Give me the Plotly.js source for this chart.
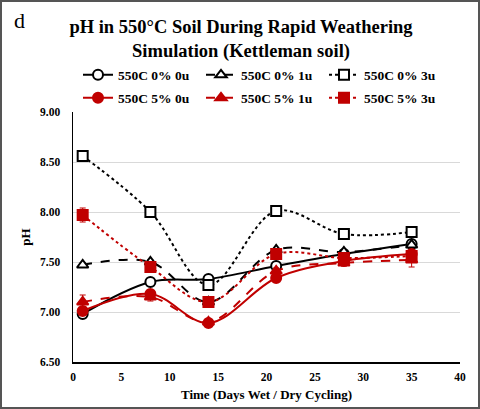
<!DOCTYPE html>
<html>
<head>
<meta charset="utf-8">
<script src="https://cdn.plot.ly/plotly-3.0.1.min.js"></script>
<style>html,body{margin:0;padding:0;background:#fff;}#chart{width:480px;height:409px;}</style>
</head>
<body>
<div id="chart"></div>
<script>
// ---- data ----
const days = [1, 8, 14, 21, 28, 35];
const seriesNames = ["550C 0% 0u", "550C 0% 1u", "550C 0% 3u", "550C 5% 0u", "550C 5% 1u", "550C 5% 3u"];
const ph_0pct_0u = [6.98, 7.30, 7.33, 7.46, 7.58, 7.68];
const ph_0pct_1u = [7.47, 7.50, 7.10, 7.62, 7.60, 7.67];
const ph_0pct_3u = [8.56, 8.00, 7.27, 8.01, 7.78, 7.80];
const ph_5pct_0u = [7.01, 7.18, 6.89, 7.34, 7.51, 7.58];
const ph_5pct_1u = [7.10, 7.15, 6.90, 7.41, 7.49, 7.52];
const ph_5pct_3u = [7.97, 7.45, 7.10, 7.58, 7.54, 7.56];
const err_0pct_0u = [0.02, 0.02, 0.02, 0.02, 0.02, 0.02];
const err_0pct_1u = [0.02, 0.02, 0.02, 0.02, 0.02, 0.02];
const err_0pct_3u = [0.02, 0.02, 0.03, 0.02, 0.02, 0.02];
const err_5pct_0u = [0.03, 0.03, 0.02, 0.04, 0.02, 0.03];
const err_5pct_1u = [0.07, 0.04, 0.02, 0.03, 0.03, 0.07];
const err_5pct_3u = [0.07, 0.03, 0.03, 0.03, 0.02, 0.03];
const yTicks = [6.5, 7.0, 7.5, 8.0, 8.5, 9.0];
const xTicks = [0, 5, 10, 15, 20, 25, 30, 35, 40];

const BLACK = "#000000", RED = "#c00000";
const serif = "Liberation Serif, Times New Roman, serif";

function tr(name, y, err, color, dash, symbol, filled, legendId) {
  return {
    type: "scatter", mode: "lines+markers", name: name, x: days, y: y, legend: legendId,
    line: {color: color, width: 2, dash: dash, shape: "spline", smoothing: 1},
    marker: {symbol: symbol, size: 10,
             color: filled ? color : "#ffffff",
             line: {color: color, width: 2}},
    error_y: {type: "data", array: err, visible: true, color: color, thickness: 1, width: 3}
  };
}

const data = [
  tr(seriesNames[0], ph_0pct_0u, err_0pct_0u, BLACK, "solid", "circle", false, "legend"),
  tr(seriesNames[1], ph_0pct_1u, err_0pct_1u, BLACK, "dash", "triangle-up", false, "legend"),
  tr(seriesNames[2], ph_0pct_3u, err_0pct_3u, BLACK, "dot", "square", false, "legend"),
  tr(seriesNames[3], ph_5pct_0u, err_5pct_0u, RED, "solid", "circle", true, "legend2"),
  tr(seriesNames[4], ph_5pct_1u, err_5pct_1u, RED, "dash", "triangle-up", true, "legend2"),
  tr(seriesNames[5], ph_5pct_3u, err_5pct_3u, RED, "dot", "square", true, "legend2")
];

const L = 73, R = 20, T = 112, B = 47, W = 480, H = 409;
const pw = W - L - R, ph = H - T - B;

function legendAt(yPx) {
  return {
    orientation: "h", x: (78 - L) / pw, xanchor: "left", y: 1 + (T - yPx) / ph, yanchor: "middle",
    font: {family: serif, size: 13.5, color: "#000", weight: "bold"},
    entrywidth: 78, entrywidthmode: "pixels", traceorder: "normal",
    bgcolor: "rgba(0,0,0,0)", borderwidth: 0
  };
}

const layout = {
  width: W, height: H,
  margin: {l: L, r: R, t: T, b: B, pad: 0},
  paper_bgcolor: "#ffffff", plot_bgcolor: "#ffffff",
  font: {family: serif, color: "#000", size: 12},
  title: {
    text: "<b>pH in 550°C Soil During Rapid Weathering<br>Simulation (Kettleman soil)</b>",
    font: {family: serif, size: 18.5, color: "#000"},
    x: 241 / W, xanchor: "center", xref: "container", y: 1 - 33 / H, yanchor: "top"
  },
  showlegend: true,
  legend: legendAt(75),
  legend2: legendAt(98),
  xaxis: {
    range: [0, 40], tickvals: xTicks, ticktext: xTicks.map(String),
    showgrid: false, zeroline: false, showline: true, linecolor: "#000", linewidth: 1.5,
    ticks: "outside", ticklen: 4, tickcolor: "rgba(0,0,0,0)",
    tickfont: {family: serif, size: 11.5, color: "#000", weight: "bold"},
    title: {text: "<b>Time (Days Wet / Dry Cycling)</b>", font: {family: serif, size: 13, color: "#000"}, standoff: 7}
  },
  yaxis: {
    range: [6.5, 9.0], tickvals: yTicks, ticktext: yTicks.map(v => v.toFixed(2)),
    showgrid: true, gridcolor: "#d9d9d9", gridwidth: 1, zeroline: false,
    showline: true, linecolor: "#000", linewidth: 1.5,
    ticks: "outside", ticklen: 9, tickcolor: "rgba(0,0,0,0)",
    tickfont: {family: serif, size: 11.5, color: "#000", weight: "bold"},
    title: {text: "<b>pH</b>", font: {family: serif, size: 13, color: "#000"}, standoff: 6}
  },
  annotations: [{
    text: "d", xref: "paper", yref: "paper", x: -(L - 12) / pw, y: 1 + (T - 6) / ph,
    xanchor: "left", yanchor: "top", showarrow: false,
    font: {family: serif, size: 22, color: "#000"}
  }],
  shapes: [{
    type: "rect", xref: "paper", yref: "paper",
    x0: -(L - 1) / pw, x1: 1 + (R - 1) / pw, y0: -(B - 1) / ph, y1: 1 + (T - 1) / ph,
    line: {color: "#555", width: 2}, fillcolor: "rgba(0,0,0,0)", layer: "above"
  }]
};

Plotly.newPlot("chart", data, layout, {displayModeBar: false, staticPlot: true});
</script>
</body>
</html>
